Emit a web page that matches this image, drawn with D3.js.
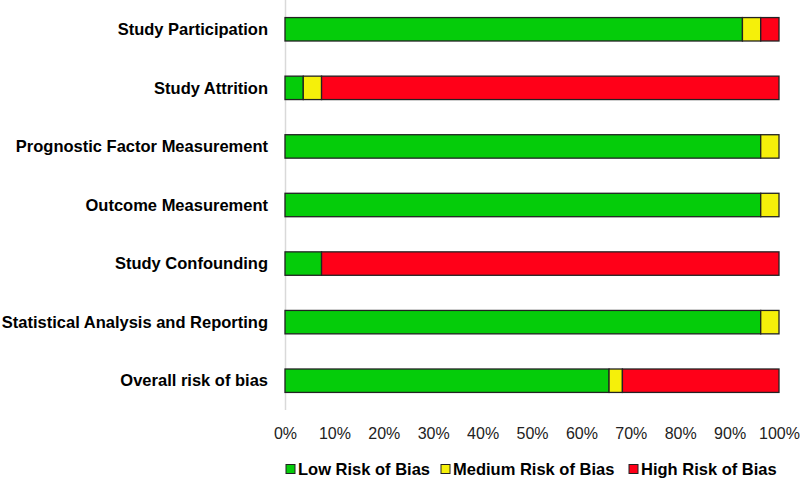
<!DOCTYPE html>
<html>
<head>
<meta charset="utf-8">
<script src="https://cdn.jsdelivr.net/npm/d3@7"></script>
<style>
  body { margin: 0; background: #fff; }
  text { font-family: "Liberation Sans", Arial, sans-serif; }
</style>
</head>
<body>
<div id="graphic-area"></div>
<script>
// domains as they appear top to bottom
const domains = [
  "Study Participation",
  "Study Attrition",
  "Prognostic Factor Measurement",
  "Outcome Measurement",
  "Study Confounding",
  "Statistical Analysis and Reporting",
  "Overall risk of bias"
];
const lowRisk    = [92.6, 3.7, 96.3, 96.3, 7.4, 96.3, 65.6];
const mediumRisk = [3.7, 3.7, 3.7, 3.7, 0, 3.7, 2.7];
const highRisk   = [3.7, 92.6, 0, 0, 92.6, 0, 31.7];
const seriesNames = ["Low Risk of Bias", "Medium Risk of Bias", "High Risk of Bias"];
const seriesColors = ["#05cc0a", "#f5f00a", "#ff0018"];
const xTicks = [0, 10, 20, 30, 40, 50, 60, 70, 80, 90, 100];

const w = 800;
const h = 480;

const rows = domains.map((d, i) => ({
  domain: d,
  "Low Risk of Bias": lowRisk[i],
  "Medium Risk of Bias": mediumRisk[i],
  "High Risk of Bias": highRisk[i]
}));

const stacked = d3.stack().keys(seriesNames)(rows);

const xScale = d3.scaleLinear()
                 .domain([0, 100])
                 .range([285, 779]);

const yScale = d3.scaleBand()
                 .domain(domains)
                 .range([0, 410])
                 .paddingInner(0.6)
                 .paddingOuter(0.3);

const svg = d3.select("#graphic-area")
              .append("svg")
              .attr("width", w)
              .attr("height", h);

// vertical axis line
svg.append("line")
   .attr("x1", xScale(0) + 0.5)
   .attr("x2", xScale(0) + 0.5)
   .attr("y1", 0)
   .attr("y2", 410)
   .attr("stroke", "#d9d9d9")
   .attr("stroke-width", 1.5);

// bars
svg.selectAll("g.series")
   .data(stacked)
   .enter()
   .append("g")
   .attr("class", "series")
   .attr("fill", (d, i) => seriesColors[i])
   .selectAll("rect")
   .data(d => d.filter(p => p[1] - p[0] > 0))
   .enter()
   .append("rect")
   .attr("x", d => xScale(d[0]))
   .attr("y", d => yScale(d.data.domain))
   .attr("width", d => xScale(d[1]) - xScale(d[0]))
   .attr("height", yScale.bandwidth())
   .attr("stroke", "#222")
   .attr("stroke-width", 1.3);

// category labels
svg.selectAll("text.cat")
   .data(domains)
   .enter()
   .append("text")
   .attr("class", "cat")
   .attr("x", 268)
   .attr("y", d => yScale(d) + yScale.bandwidth() / 2)
   .attr("dy", "0.35em")
   .attr("text-anchor", "end")
   .attr("font-size", 16.5)
   .attr("font-weight", "bold")
   .attr("fill", "#000")
   .text(d => d);

// x axis tick labels
const xAxis = d3.axisBottom(xScale)
                .tickValues(xTicks)
                .tickFormat(d => d + "%")
                .tickSize(0)
                .tickPadding(0);

const gx = svg.append("g")
   .attr("id", "x-axis")
   .attr("transform", "translate(0, 428)")
   .call(xAxis);
gx.select(".domain").remove();
gx.selectAll("text")
  .attr("font-size", 16)
  .attr("font-family", "'Liberation Sans', Arial, sans-serif")
  .attr("fill", "#222");

// legend
const legendX = [286, 441, 629];
const legend = svg.selectAll("g.legend")
   .data(seriesNames)
   .enter()
   .append("g")
   .attr("class", "legend")
   .attr("transform", (d, i) => "translate(" + legendX[i] + ", 469)");

legend.append("rect")
      .attr("x", 0)
      .attr("y", -4.5)
      .attr("width", 9)
      .attr("height", 9)
      .attr("fill", (d, i) => seriesColors[i])
      .attr("stroke", "#222")
      .attr("stroke-width", 1);

legend.append("text")
      .attr("x", 12)
      .attr("y", 0)
      .attr("dy", "0.35em")
      .attr("font-size", 16.5)
      .attr("font-weight", "bold")
      .attr("fill", "#000")
      .text(d => d);
</script>
</body>
</html>
